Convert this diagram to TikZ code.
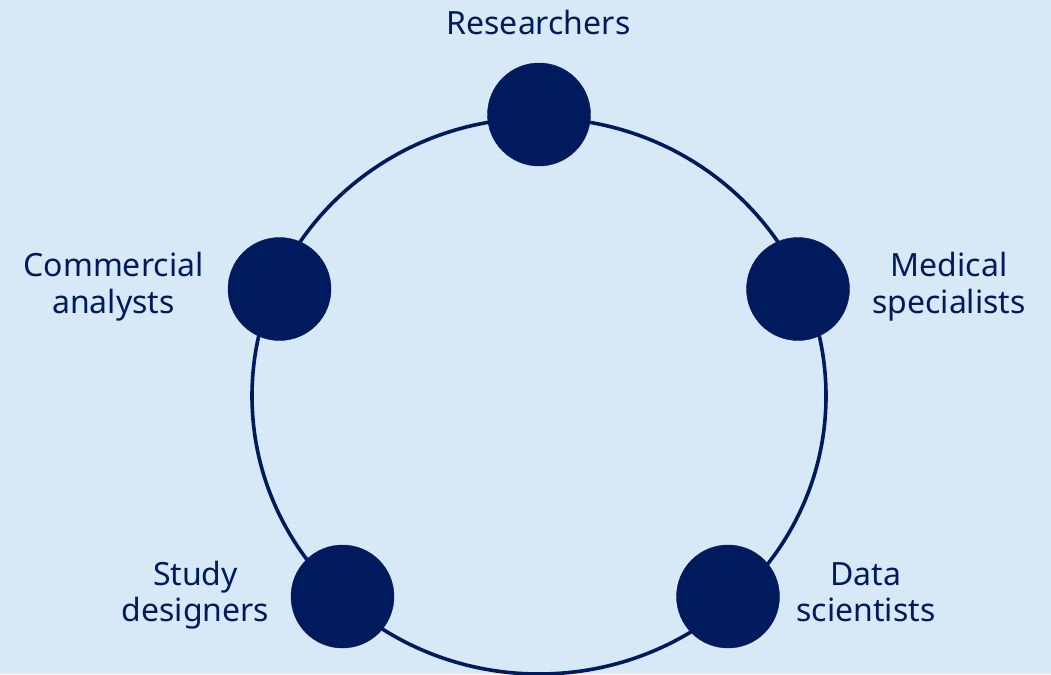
\documentclass[tikz,border=0pt]{standalone}
\usepackage{fontspec}
\setmainfont{Noto Sans}
\definecolor{navy}{HTML}{001A5E}
\definecolor{paleblue}{HTML}{D7E8F6}
\begin{document}
\begin{tikzpicture}[x=1pt,y=-1pt,
	member/.style={circle, fill=navy, draw=navy, minimum size=103pt, inner sep=0pt},
	role/.style={text=navy, align=center, anchor=base, font=\fontsize{32}{36.7}\selectfont}]
				\fill[paleblue] (0,0) rectangle (1051,674);
				\useasboundingbox (0,0) rectangle (1051,674);
				\draw[navy, line width=3.6pt] (539,396) ellipse [x radius=287, y radius=278];
				\draw (539,114.5) node[member] (res) {};
				\draw (798,289) node[member] (med) {};
				\draw (728,596.5) node[member] (dat) {};
				\draw (342.5,596.5) node[member] (stu) {};
				\draw (279.5,289) node[member] (com) {};
				\draw (538.5,35) node[role] (reslabel) {Researchers};
				\draw (949,313.3) node[role] (medlabel) {Medical\\specialists};
				\draw (866,621.7) node[role] (datlabel) {Data\\scientists};
				\draw (195.5,621.7) node[role] (stulabel) {Study\\designers};
				\draw (113.5,313.3) node[role] (comlabel) {Commercial\\analysts};
			\end{tikzpicture}
\end{document}
